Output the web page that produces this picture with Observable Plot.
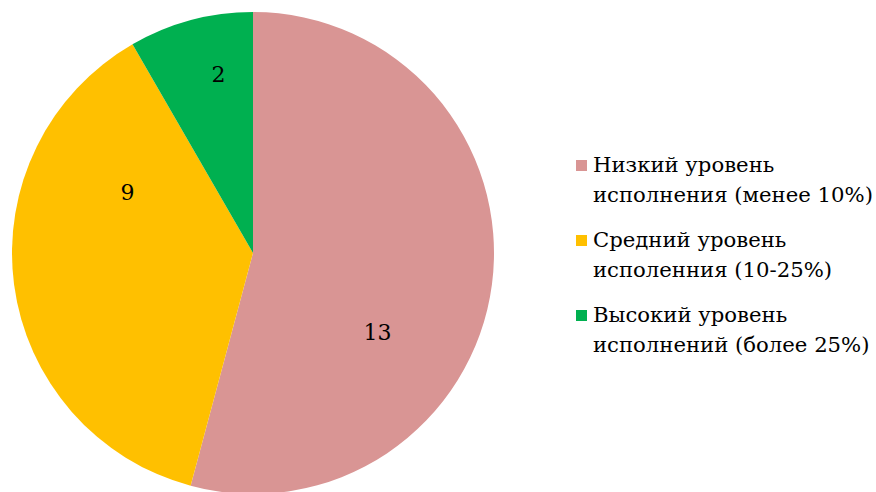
<!DOCTYPE html>
<html>
<head>
<meta charset="utf-8">
<script src="https://cdn.jsdelivr.net/npm/d3@7"></script>
<script src="https://cdn.jsdelivr.net/npm/@observablehq/plot@0.6"></script>
<style>
  html, body { margin: 0; padding: 0; background: #fff; }
  #wrap { position: relative; width: 876px; height: 492px; overflow: hidden; }
  #chart svg { display: block; }
  #legend { position: absolute; left: 576px; top: 150px; font-family: "DejaVu Serif", serif; font-size: 21.2px; color: #000; line-height: 30px; white-space: nowrap; }
  .item { display: flex; align-items: flex-start; margin-bottom: 15px; }
  .sw { width: 11px; height: 11px; margin-top: 10px; margin-right: 6px; flex: none; }
</style>
</head>
<body>
<div id="wrap">
  <div id="chart"></div>
  <div id="legend"></div>
</div>
<script>
const categories = [
  "Низкий уровень исполнения (менее 10%)",
  "Средний уровень исполенния (10-25%)",
  "Высокий уровень исполнений (более 25%)"
];
const legendLines = [
  ["Низкий уровень", "исполнения (менее 10%)"],
  ["Средний уровень", "исполенния (10-25%)"],
  ["Высокий уровень", "исполнений (более 25%)"]
];
const values = [13, 9, 2];
const colors = ["#D99594", "#FFC000", "#00B050"];

// label placement (polar: degrees clockwise from top, fraction of radius)
const labelAngle = [122.8, 295.5, 348.9];
const labelRadius = [0.612, 0.579, 0.753];

const data = categories.map((c, i) => ({category: c, value: values[i]}));
const arcs = d3.pie().sort(null).value(d => d.value)(data);
const labels = data.map((d, i) => {
  const a = labelAngle[i] * Math.PI / 180;
  return {text: String(d.value), x: labelRadius[i] * Math.sin(a), y: -labelRadius[i] * Math.cos(a)};
});

const serif = '"DejaVu Serif", serif';

const pieMark = (index, scales, values, dims, context) => {
  const cx = scales.x(0), cy = scales.y(0);
  const r = scales.x(1) - scales.x(0);
  const arc = d3.arc().innerRadius(0).outerRadius(r);
  const g = d3.create("svg:g").attr("transform", `translate(${cx},${cy})`);
  g.selectAll("path").data(arcs).join("path")
    .attr("d", arc)
    .attr("fill", d => scales.color(d.data.category));
  return g.node();
};

const chart = Plot.plot({
  width: 876,
  height: 492,
  margin: 0,
  x: {domain: [-1, 1], range: [12, 494], axis: null},
  y: {domain: [-1, 1], range: [12, 494], axis: null},
  color: {domain: categories, range: colors},
  style: {fontFamily: serif, background: "white"},
  marks: [
    pieMark,
    Plot.text(labels, {x: "x", y: "y", text: "text", fontSize: 22, fill: "black", fontFamily: serif})
  ]
});
document.getElementById("chart").appendChild(chart);

const legend = document.getElementById("legend");
categories.forEach((c, i) => {
  const item = document.createElement("div");
  item.className = "item";
  const sw = document.createElement("div");
  sw.className = "sw";
  sw.style.background = colors[i];
  const txt = document.createElement("div");
  txt.innerHTML = legendLines[i].join("<br>");
  item.appendChild(sw);
  item.appendChild(txt);
  legend.appendChild(item);
});
</script>
</body>
</html>
